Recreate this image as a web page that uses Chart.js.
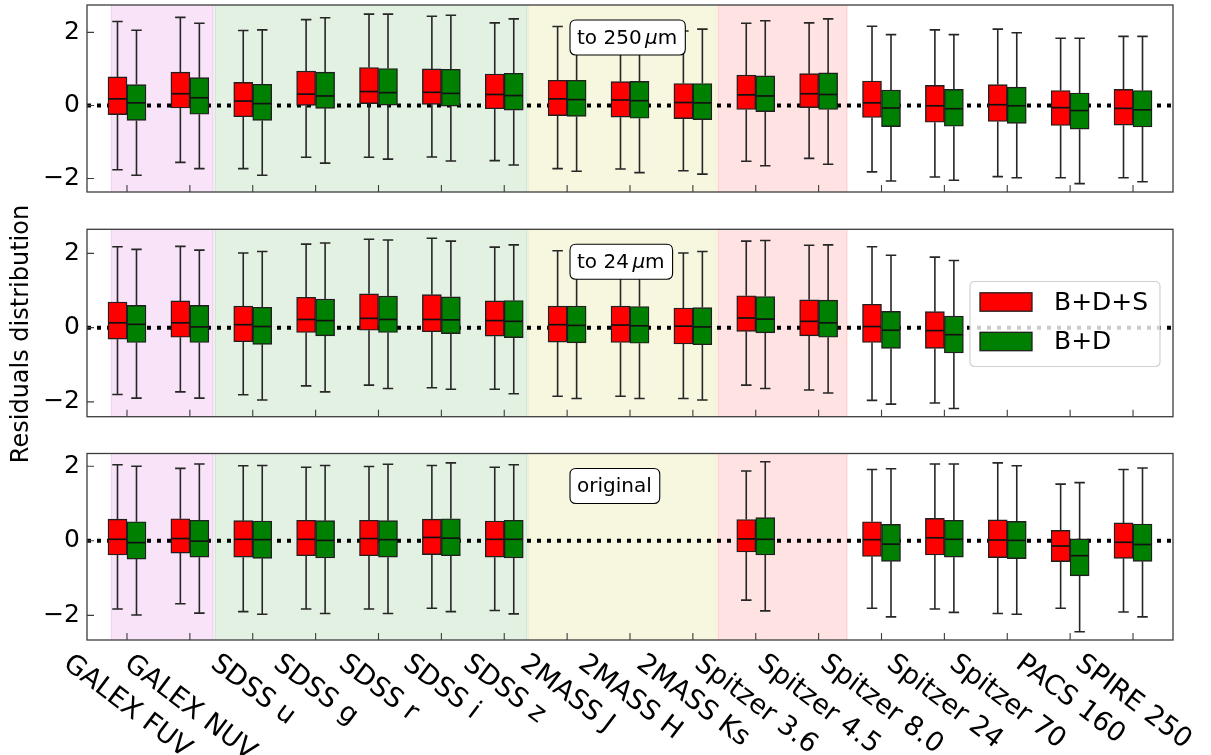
<!DOCTYPE html>
<html><head><meta charset="utf-8">
<script src="https://cdn.jsdelivr.net/npm/chart.js@4.4.0/dist/chart.umd.min.js"></script>
<style>
html,body{margin:0;padding:0;background:#fff;}
#wrap{position:relative;width:1211px;height:755px;overflow:hidden;}
#wrap canvas{position:absolute;left:0;top:0;}
</style></head><body>
<div id="wrap">
<canvas id="c1" width="1211" height="755"></canvas>
<canvas id="c2" width="1211" height="755"></canvas>
<canvas id="c3" width="1211" height="755"></canvas>
</div>
<script>
// ---------------- DATA ----------------
const categories = ['GALEX FUV','GALEX NUV','SDSS u','SDSS g','SDSS r','SDSS i','SDSS z',
  '2MASS J','2MASS H','2MASS Ks','Spitzer 3.6','Spitzer 4.5','Spitzer 8.0','Spitzer 24',
  'Spitzer 70','PACS 160','SPIRE 250'];
const seriesNames = ['B+D+S','B+D'];
const panelLabels = ['to 250 \u03bcm','to 24 \u03bcm','original'];
const yTickValues = [-2, 0, 2];
// band groups: [start, end] in category index units
const bandRanges = [[-0.25,1.37],[1.40,6.36],[6.38,9.37],[9.40,11.45]];

// each entry: [whisker low, Q1, median, Q3, whisker high]
const to250_BDS = [
  [-1.76,-0.25,0.18,0.78,2.30],[-1.56,-0.07,0.32,0.91,2.41],[-1.73,-0.31,0.12,0.63,2.05],
  [-1.42,0.00,0.31,0.94,2.35],[-1.42,0.05,0.38,1.04,2.50],[-1.41,0.03,0.36,1.00,2.44],
  [-1.51,-0.09,0.30,0.86,2.26],[-1.73,-0.28,0.18,0.69,2.16],[-1.74,-0.32,0.15,0.65,2.10],
  [-1.79,-0.36,0.08,0.60,2.04],[-1.53,-0.11,0.29,0.83,2.25],[-1.45,-0.06,0.32,0.87,2.26],
  [-1.82,-0.33,0.07,0.67,2.17],[-1.96,-0.46,-0.01,0.55,2.07],[-1.95,-0.44,0.02,0.57,2.09],
  [-1.98,-0.55,-0.06,0.41,1.84],[-1.98,-0.54,-0.08,0.44,1.89]];
const to250_BD = [
  [-1.91,-0.41,0.07,0.57,2.06],[-1.73,-0.24,0.21,0.76,2.25],[-1.91,-0.41,0.05,0.58,2.07],
  [-1.58,-0.08,0.26,0.91,2.40],[-1.47,0.01,0.35,1.01,2.50],[-1.52,-0.02,0.33,0.99,2.47],
  [-1.63,-0.13,0.27,0.88,2.37],[-1.80,-0.30,0.16,0.69,2.12],[-1.84,-0.35,0.13,0.66,2.05],
  [-1.88,-0.39,0.07,0.60,2.09],[-1.65,-0.17,0.26,0.81,2.32],[-1.61,-0.11,0.30,0.89,2.37],
  [-2.07,-0.58,-0.07,0.42,1.94],[-2.05,-0.57,-0.09,0.44,1.94],[-1.98,-0.49,-0.01,0.50,1.99],
  [-2.14,-0.65,-0.14,0.34,1.84],[-2.09,-0.59,-0.12,0.41,1.89]];
const to24_BDS = [
  [-1.80,-0.31,0.13,0.69,2.18],[-1.73,-0.26,0.13,0.72,2.19],[-1.81,-0.38,0.08,0.58,2.01],
  [-1.57,-0.13,0.22,0.82,2.25],[-1.55,-0.07,0.25,0.91,2.38],[-1.62,-0.11,0.22,0.89,2.41],
  [-1.66,-0.23,0.19,0.72,2.17],[-1.85,-0.39,0.08,0.58,2.07],[-1.85,-0.40,0.07,0.58,2.00],
  [-1.91,-0.44,0.04,0.53,2.01],[-1.55,-0.10,0.26,0.86,2.33],[-1.68,-0.22,0.17,0.75,2.22],
  [-1.96,-0.40,0.03,0.63,2.18],[-2.03,-0.56,-0.08,0.43,1.90],null,null,null];
const to24_BD = [
  [-1.90,-0.40,0.09,0.60,2.11],[-1.90,-0.40,0.02,0.60,2.09],[-1.95,-0.45,0.03,0.55,2.05],
  [-1.73,-0.22,0.19,0.77,2.28],[-1.64,-0.13,0.22,0.85,2.36],[-1.66,-0.16,0.21,0.83,2.33],
  [-1.78,-0.27,0.17,0.73,2.23],[-1.91,-0.41,0.06,0.58,2.05],[-1.91,-0.42,0.05,0.57,2.02],
  [-1.95,-0.46,0.02,0.54,2.05],[-1.64,-0.14,0.23,0.84,2.35],[-1.76,-0.26,0.13,0.74,2.23],
  [-2.06,-0.56,-0.07,0.44,1.95],[-2.18,-0.68,-0.19,0.31,1.81],null,null,null];
const orig_BDS = [
  [-1.83,-0.38,0.04,0.58,2.04],[-1.69,-0.33,0.06,0.59,1.94],[-1.90,-0.44,0.04,0.54,2.01],
  [-1.83,-0.40,0.04,0.55,1.97],[-1.83,-0.40,0.06,0.55,1.99],[-1.81,-0.37,0.09,0.58,2.02],
  [-1.87,-0.44,0.04,0.53,1.97],null,null,null,[-1.59,-0.30,0.05,0.57,1.87],null,
  [-1.81,-0.42,0.03,0.51,1.91],[-1.83,-0.38,0.08,0.60,2.06],[-1.95,-0.45,0.02,0.56,2.09],
  [-1.81,-0.56,-0.14,0.28,1.52],[-1.91,-0.47,-0.04,0.48,1.91]];
const orig_BD = [
  [-1.99,-0.49,-0.05,0.51,2.00],[-1.94,-0.44,-0.01,0.55,2.06],[-1.97,-0.47,0.03,0.53,2.02],
  [-1.95,-0.46,0.01,0.54,2.02],[-1.95,-0.44,0.03,0.54,2.05],[-1.90,-0.40,0.07,0.59,2.09],
  [-1.96,-0.46,0.04,0.55,2.04],null,null,null,[-1.88,-0.38,0.04,0.62,2.12],null,
  [-2.04,-0.55,-0.09,0.44,1.93],[-1.92,-0.44,0.04,0.55,2.06],[-1.97,-0.48,0.01,0.52,2.01],
  [-2.44,-0.94,-0.40,0.05,1.56],[-2.04,-0.55,-0.10,0.45,1.95]];

// ---------------- STYLE / LAYOUT ----------------
const FONT = "'DejaVu Sans', 'Liberation Sans', sans-serif";
const W = 1211, H = 755;
const panels = [
  {id:'c1', top:5,     bottom:192,   ymin:-2.37, ymax:2.75, red:to250_BDS, green:to250_BD, label:panelLabels[0]},
  {id:'c2', top:229.3, bottom:416.7, ymin:-2.40, ymax:2.65, red:to24_BDS,  green:to24_BD,  label:panelLabels[1], legend:true, ytitle:true},
  {id:'c3', top:453.5, bottom:640,   ymin:-2.66, ymax:2.34, red:orig_BDS,  green:orig_BD,  label:panelLabels[2], xlabels:true}
];
const bandColors = ['rgba(191,0,191,0.11)','rgba(0,128,0,0.11)','rgba(191,191,0,0.12)','rgba(255,0,0,0.11)'];
const BOX_W = 19;
const EDGE = '#1f1f1f';
const SPINE = '#3c3c3c';
const XLABEL_ANGLE = 37 * Math.PI / 180;
const XLABEL_SIZE = 27;

function buildData(arr){
  const out = [];
  arr.forEach((s,i)=>{ if(s) out.push({x:i, y:[s[1],s[3]], stats:s}); });
  return out;
}

function roundRect(ctx,x,y,w,h,r){
  ctx.beginPath();
  ctx.moveTo(x+r,y); ctx.lineTo(x+w-r,y); ctx.quadraticCurveTo(x+w,y,x+w,y+r);
  ctx.lineTo(x+w,y+h-r); ctx.quadraticCurveTo(x+w,y+h,x+w-r,y+h);
  ctx.lineTo(x+r,y+h); ctx.quadraticCurveTo(x,y+h,x,y+h-r);
  ctx.lineTo(x,y+r); ctx.quadraticCurveTo(x,y,x+r,y); ctx.closePath();
}

const boxPlugin = {
  id:'boxExtras',
  beforeDatasetsDraw(chart){
    const {ctx, chartArea:a, scales:{x,y}} = chart;
    ctx.save();
    ctx.beginPath(); ctx.rect(a.left,a.top,a.right-a.left,a.bottom-a.top); ctx.clip();
    // shaded bands
    bandRanges.forEach((b,k)=>{
      const x0 = x.getPixelForValue(b[0]), x1 = x.getPixelForValue(b[1]);
      ctx.fillStyle = bandColors[k];
      ctx.fillRect(x0,a.top,x1-x0,a.bottom-a.top);
      ctx.strokeStyle = bandColors[k]; ctx.lineWidth = 1.5;
      ctx.strokeRect(x0,a.top-2,x1-x0,a.bottom-a.top+4);
    });
    // zero dotted line
    const y0 = y.getPixelForValue(0);
    ctx.setLineDash([4,6]); ctx.lineWidth = 4; ctx.strokeStyle = '#000';
    ctx.beginPath(); ctx.moveTo(a.left,y0); ctx.lineTo(a.right,y0); ctx.stroke();
    ctx.setLineDash([]);
    // whiskers
    ctx.strokeStyle = '#262626'; ctx.lineWidth = 1.6;
    chart.data.datasets.forEach((ds,di)=>{
      const meta = chart.getDatasetMeta(di);
      meta.data.forEach((el,j)=>{
        const s = ds.data[j].stats;
        const cx = el.x, hw = el.width/4 + 0.5;
        const pl = y.getPixelForValue(s[0]), p1 = y.getPixelForValue(s[1]);
        const p3 = y.getPixelForValue(s[3]), ph = y.getPixelForValue(s[4]);
        ctx.beginPath();
        ctx.moveTo(cx,p3); ctx.lineTo(cx,ph);
        ctx.moveTo(cx,p1); ctx.lineTo(cx,pl);
        ctx.moveTo(cx-hw,ph); ctx.lineTo(cx+hw,ph);
        ctx.moveTo(cx-hw,pl); ctx.lineTo(cx+hw,pl);
        ctx.stroke();
      });
    });
    ctx.restore();
  },
  afterDatasetsDraw(chart){
    const {ctx, chartArea:a, scales:{x,y}} = chart;
    const P = chart.options.plugins.boxExtras;
    ctx.save();
    // medians
    ctx.strokeStyle = '#111'; ctx.lineWidth = 1.7;
    chart.data.datasets.forEach((ds,di)=>{
      const meta = chart.getDatasetMeta(di);
      meta.data.forEach((el,j)=>{
        const s = ds.data[j].stats;
        const pm = y.getPixelForValue(s[2]);
        ctx.beginPath(); ctx.moveTo(el.x-el.width/2+0.5,pm); ctx.lineTo(el.x+el.width/2-0.5,pm); ctx.stroke();
      });
    });
    // frame
    ctx.strokeStyle = SPINE; ctx.lineWidth = 1.3;
    ctx.strokeRect(a.left,a.top,a.right-a.left,a.bottom-a.top);
    // inward ticks
    ctx.lineWidth = 1.1;
    ctx.beginPath();
    yTickValues.forEach(v=>{ const py=y.getPixelForValue(v); ctx.moveTo(a.left,py); ctx.lineTo(a.left+7,py); });
    categories.forEach((c,i)=>{ const px=x.getPixelForValue(i); ctx.moveTo(px,a.bottom); ctx.lineTo(px,a.bottom-7); });
    ctx.stroke();
    // panel label box
    const normal = '20px ' + FONT, italic = 'italic 20px ' + FONT;
    const parts = P.label.split('\u03bc');
    const bx = a.left + 483, by = a.top + 15, bh = 35;
    ctx.textBaseline='middle'; ctx.textAlign='left';
    if(parts.length===2){
      const p0 = parts[0].replace(/ $/,'');
      ctx.font = normal; const w0 = ctx.measureText(p0).width;
      const thin = 3.5;
      ctx.font = italic; const wmu = ctx.measureText('\u03bc').width;
      ctx.font = normal; const w2 = ctx.measureText(parts[1]).width;
      const tw = w0 + thin + wmu + w2, bw = tw + 15;
      roundRect(ctx,bx,by,bw,bh,6); ctx.fillStyle='#fff'; ctx.fill(); ctx.strokeStyle='#000'; ctx.lineWidth=1.1; ctx.stroke();
      ctx.fillStyle='#000';
      let tx = bx + 7; const ty = by + bh/2 + 1;
      ctx.font = normal; ctx.fillText(p0,tx,ty); tx += w0 + thin;
      ctx.font = italic; ctx.fillText('\u03bc',tx,ty); tx += wmu;
      ctx.font = normal; ctx.fillText(parts[1],tx,ty);
    } else {
      ctx.font = normal;
      const tw = ctx.measureText(P.label).width, bw = tw + 15;
      roundRect(ctx,bx,by,bw,bh,6); ctx.fillStyle='#fff'; ctx.fill(); ctx.strokeStyle='#000'; ctx.lineWidth=1.1; ctx.stroke();
      ctx.fillStyle='#000';
      ctx.fillText(P.label,bx+7,by+bh/2+1);
    }
    // legend
    if(P.legend){
      const lw = 190, lh = 85;
      const lx = a.right - 13 - lw, ly = (a.top+a.bottom)/2 - lh/2 + 1;
      roundRect(ctx,lx,ly,lw,lh,5);
      ctx.fillStyle='rgba(255,255,255,0.8)'; ctx.fill();
      ctx.strokeStyle='#d0d0d0'; ctx.lineWidth=1.2; ctx.stroke();
      const rows = [ly+20.5, ly+60];
      chart.data.datasets.forEach((ds,di)=>{
        const cy = rows[di];
        ctx.fillStyle = ds.backgroundColor; ctx.fillRect(lx+10,cy-9.2,52,18.4);
        ctx.strokeStyle = EDGE; ctx.lineWidth=1.3; ctx.strokeRect(lx+10,cy-9.2,52,18.4);
        ctx.fillStyle='#000'; ctx.font='25px '+FONT; ctx.textAlign='left'; ctx.textBaseline='middle';
        ctx.fillText(ds.label, lx+84, cy+1);
      });
    }
    // y title
    if(P.ytitle){
      ctx.save();
      ctx.translate(22, 334); ctx.rotate(-Math.PI/2);
      ctx.fillStyle='#000'; ctx.font='24px '+FONT; ctx.textAlign='center'; ctx.textBaseline='middle';
      ctx.fillText('Residuals distribution',0,0);
      ctx.restore();
    }
    // x tick labels (rotated clockwise, bbox centred on tick)
    if(P.xlabels){
      const fs = XLABEL_SIZE;
      ctx.font=fs+'px '+FONT; ctx.fillStyle='#000'; ctx.textAlign='center'; ctx.textBaseline='middle';
      const th = fs*1.0;
      const c = Math.cos(XLABEL_ANGLE), s = Math.sin(XLABEL_ANGLE);
      categories.forEach((lab,i)=>{
        const px = x.getPixelForValue(i);
        const w = ctx.measureText(lab).width;
        const bh = w*s + th*c;
        ctx.save();
        ctx.translate(px, a.bottom + 10 + bh/2);
        ctx.rotate(XLABEL_ANGLE);
        ctx.fillText(lab,0,0);
        ctx.restore();
      });
    }
    ctx.restore();
  }
};

panels.forEach(p=>{
  new Chart(document.getElementById(p.id), {
    type:'bar',
    data:{
      datasets:[
        {label:seriesNames[0], data:buildData(p.red), backgroundColor:'#ff0000', borderColor:EDGE, borderWidth:1.4, borderSkipped:false, barThickness:BOX_W},
        {label:seriesNames[1], data:buildData(p.green), backgroundColor:'#008000', borderColor:EDGE, borderWidth:1.4, borderSkipped:false, barThickness:BOX_W}
      ]
    },
    options:{
      responsive:false, animation:false, devicePixelRatio:1,
      layout:{padding:{left:0, right:38, top:p.top, bottom:H-p.bottom}},
      plugins:{legend:{display:false}, tooltip:{enabled:false},
        boxExtras:{label:p.label, legend:!!p.legend, ytitle:!!p.ytitle, xlabels:!!p.xlabels}},
      scales:{
        x:{type:'linear', min:-0.636, max:16.636, display:false, offset:false},
        y:{type:'linear', min:p.ymin, max:p.ymax,
           grid:{display:false, drawTicks:false}, border:{display:false},
           ticks:{font:{family:FONT,size:25}, color:'#000', padding:7,
             callback:(v)=> v<0 ? '\u2212'+Math.abs(v) : String(v)},
           afterBuildTicks:(s)=>{ s.ticks = yTickValues.map(v=>({value:v})); },
           afterFit:(s)=>{ s.width = 87; s.paddingTop = 0; s.paddingBottom = 0; }
        }
      }
    },
    plugins:[boxPlugin]
  });
});
</script>
</body></html>
